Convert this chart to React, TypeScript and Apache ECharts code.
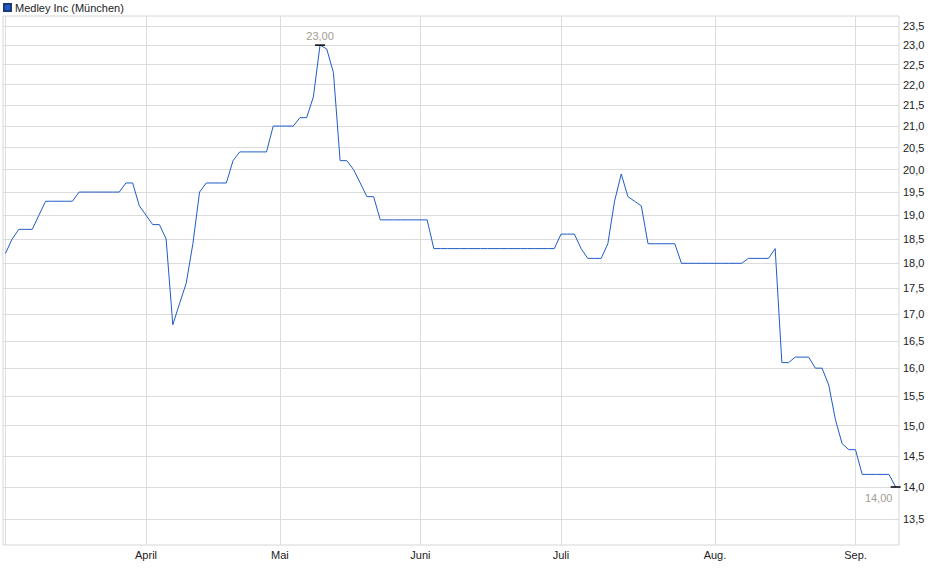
import React, { useEffect, useRef } from 'react'
import * as echarts from 'echarts'

const seriesName = 'Medley Inc (München)'

// one value per trading day, March to mid September
const prices = [
  18.2, 18.5, 18.7, 18.7, 18.7, 19.0, 19.3, 19.3, 19.3, 19.3,
  19.3, 19.5, 19.5, 19.5, 19.5, 19.5, 19.5, 19.5, 19.7, 19.7,
  19.2, 19.0, 18.8, 18.8, 18.5, 16.8, 17.2, 17.6, 18.4, 19.5,
  19.7, 19.7, 19.7, 19.7, 20.2, 20.4, 20.4, 20.4, 20.4, 20.4,
  21.0, 21.0, 21.0, 21.0, 21.2, 21.2, 21.7, 23.0, 22.9, 22.3,
  20.2, 20.2, 20.0, 19.7, 19.4, 19.4, 18.9, 18.9, 18.9, 18.9,
  18.9, 18.9, 18.9, 18.9, 18.3, 18.3, 18.3, 18.3, 18.3, 18.3,
  18.3, 18.3, 18.3, 18.3, 18.3, 18.3, 18.3, 18.3, 18.3, 18.3,
  18.3, 18.3, 18.3, 18.6, 18.6, 18.6, 18.3, 18.1, 18.1, 18.1,
  18.4, 19.3, 19.9, 19.4, 19.3, 19.2, 18.4, 18.4, 18.4, 18.4,
  18.4, 18.0, 18.0, 18.0, 18.0, 18.0, 18.0, 18.0, 18.0, 18.0,
  18.0, 18.1, 18.1, 18.1, 18.1, 18.3, 16.1, 16.1, 16.2, 16.2,
  16.2, 16.0, 16.0, 15.7, 15.1, 14.7, 14.6, 14.6, 14.2, 14.2,
  14.2, 14.2, 14.2, 14.0,
]

// index of the first trading day of each month
const monthStarts = [0, 21, 41, 62, 83, 106, 127]
const monthLabels = ['', 'April', 'Mai', 'Juni', 'Juli', 'Aug.', 'Sep.']

const yTicks = [
  13.5, 14.0, 14.5, 15.0, 15.5, 16.0, 16.5, 17.0, 17.5, 18.0, 18.5,
  19.0, 19.5, 20.0, 20.5, 21.0, 21.5, 22.0, 22.5, 23.0, 23.5,
]

const font = '"Liberation Sans", Arial, sans-serif'
const fmt = (v: number, d: number) => v.toFixed(d).replace('.', ',')

export default function App() {
  const ref = useRef<HTMLDivElement>(null)

  useEffect(() => {
    if (!ref.current) return
    const chart = echarts.init(ref.current, null, { renderer: 'svg' })

    const last = prices.length - 1
    const maxVal = Math.max(...prices)
    const maxIdx = prices.indexOf(maxVal)

    chart.setOption({
      animation: false,
      textStyle: { fontFamily: font },
      legend: {
        left: 3,
        top: 2,
        itemWidth: 7,
        itemHeight: 7,
        itemGap: 10,
        icon: 'rect',
        padding: 0,
        textStyle: { fontSize: 11, color: '#222', fontFamily: font, padding: [0, 0, 0, -1] },
        data: [seriesName],
      },
      grid: {
        left: 3,
        right: 41,
        top: 16,
        bottom: 34,
        show: true,
        borderColor: '#d6d6d6',
        borderWidth: 1,
        outerBoundsMode: 'none',
      },
      xAxis: {
        type: 'value',
        min: -0.37,
        max: 133.5,
        axisLine: { show: false },
        axisTick: { show: false, customValues: monthStarts },
        axisLabel: {
          customValues: monthStarts,
          margin: 4,
          fontSize: 11,
          color: '#222',
          fontFamily: font,
          formatter: (v: number) => monthLabels[monthStarts.indexOf(Math.round(v))] ?? '',
        },
        splitLine: { show: true, lineStyle: { color: '#dcdcdc', width: 1 } },
      },
      yAxis: {
        type: 'log',
        position: 'right',
        min: 13.117,
        max: 23.765,
        axisLine: { show: false },
        axisTick: { show: false, customValues: yTicks },
        axisLabel: {
          customValues: yTicks,
          margin: 4,
          fontSize: 11,
          color: '#222',
          fontFamily: font,
          formatter: (v: number) => fmt(v, 1),
        },
        splitLine: { show: true, lineStyle: { color: '#dcdcdc', width: 1 } },
      },
      series: [
        {
          name: seriesName,
          type: 'line',
          data: prices.map((v, i) => [i, v]),
          showSymbol: false,
          lineStyle: { color: '#1f5cc6', width: 1 },
          itemStyle: { color: '#2358c8', borderColor: '#1a3a7a', borderWidth: 0.8 },
          markPoint: {
            symbol: 'rect',
            symbolSize: [10, 1.5],
            itemStyle: { color: '#000', borderWidth: 0 },
            label: {
              show: true,
              fontSize: 11,
              color: '#a49c92',
              fontFamily: font,
              formatter: (p: any) => fmt(p.value, 2),
            },
            data: [
              {
                coord: [maxIdx, maxVal],
                value: maxVal,
                label: { position: 'top', distance: 3 },
              },
              {
                coord: [last, prices[last]],
                value: prices[last],
                label: { position: 'bottom', distance: 5, offset: [-17, 0] },
              },
            ],
          },
        },
      ],
    })

    return () => chart.dispose()
  }, [])

  return (
    <div
      ref={ref}
      style={{ position: 'fixed', left: 0, top: 0, width: 940, height: 579, background: '#fff' }}
    />
  )
}
